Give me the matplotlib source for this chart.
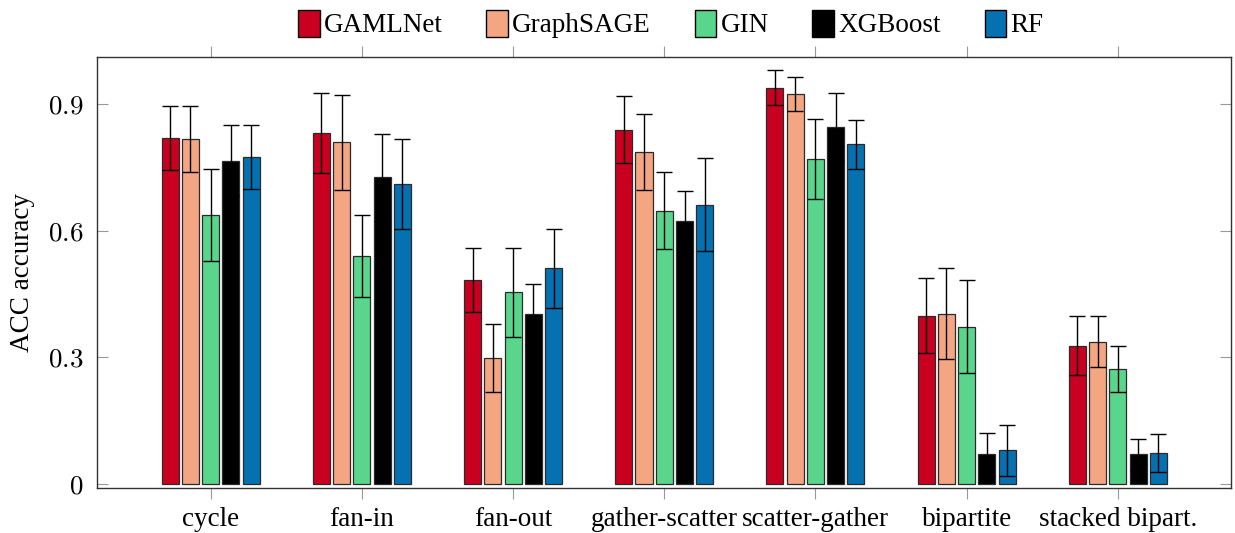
import matplotlib
matplotlib.use("Agg")
import matplotlib.pyplot as plt
import numpy as np

categories = ["cycle", "fan-in", "fan-out", "gather-scatter", "scatter-gather",
              "bipartite", "stacked bipart."]
models = ["GAMLNet", "GraphSAGE", "GIN", "XGBoost", "RF"]
colors = ["#CA0020", "#F4A582", "#59D68B", "#000000", "#0571B0"]

# mean accuracy per model, one value per category
gamlnet = [0.819, 0.831, 0.484, 0.839, 0.939, 0.399, 0.328]
graphsage = [0.817, 0.809, 0.298, 0.786, 0.924, 0.403, 0.337]
gin = [0.637, 0.540, 0.454, 0.647, 0.770, 0.373, 0.272]
xgboost = [0.766, 0.726, 0.402, 0.624, 0.846, 0.070, 0.070]
rf = [0.775, 0.710, 0.511, 0.661, 0.805, 0.080, 0.074]

# std errors
gamlnet_err = [0.076, 0.094, 0.076, 0.079, 0.041, 0.089, 0.071]
graphsage_err = [0.078, 0.112, 0.080, 0.090, 0.040, 0.108, 0.060]
gin_err = [0.108, 0.098, 0.106, 0.091, 0.094, 0.111, 0.055]
xgboost_err = [0.084, 0.104, 0.071, 0.071, 0.081, 0.051, 0.036]
rf_err = [0.076, 0.107, 0.093, 0.110, 0.058, 0.060, 0.045]

yticks = [0, 0.3, 0.6, 0.9]
ytick_labels = ["$0$", "$0.3$", "$0.6$", "$0.9$"]

plt.rcParams["font.family"] = ["Liberation Serif", "DejaVu Serif"]
plt.rcParams["mathtext.fontset"] = "cm"

means = [gamlnet, graphsage, gin, xgboost, rf]
errs = [gamlnet_err, graphsage_err, gin_err, xgboost_err, rf_err]

fig = plt.figure(figsize=(12.35, 5.33), dpi=100)
ax = fig.add_axes([0.0785, 0.085, 0.918, 0.8075])

x = np.arange(len(categories))
step = 0.134
width = 0.1125
for i in range(len(models)):
    pos = x + (i - 2) * step
    ax.bar(pos, means[i], width, color=colors[i], edgecolor="#2b2b2b",
           linewidth=0.9, label=models[i], zorder=2)
    ax.errorbar(pos, means[i], yerr=errs[i], fmt="none", ecolor="black",
                elinewidth=1.0, capsize=5.5, capthick=1.0, zorder=3)

ax.set_xlim(-0.752, 6.746)
ax.set_ylim(-0.0088, 1.0107)
ax.set_xticks(x)
ax.set_xticklabels(categories, fontsize=19.5)
ax.set_yticks(yticks)
ax.set_yticklabels(ytick_labels, fontsize=19.5)
ax.set_ylabel("ACC accuracy", fontsize=19.5, labelpad=9)

ax.tick_params(axis="x", direction="out", length=8, width=0.8, color="#999999",
               top=True, pad=6)
ax.tick_params(axis="y", direction="in", length=8, width=0.8, color="#999999",
               right=True, pad=10)
for s in ax.spines.values():
    s.set_linewidth(1.0)
    s.set_color("#333333")

leg = fig.legend(loc="center", bbox_to_anchor=(0.543, 0.955), ncol=5,
                 frameon=False, fontsize=19.5, handlelength=0.8,
                 handleheight=1.15, handletextpad=0.15, columnspacing=1.62,
                 borderaxespad=0)
for h in leg.legend_handles:
    h.set_edgecolor("black")
    h.set_linewidth(1.0)

fig.savefig("out.png", dpi=100)
